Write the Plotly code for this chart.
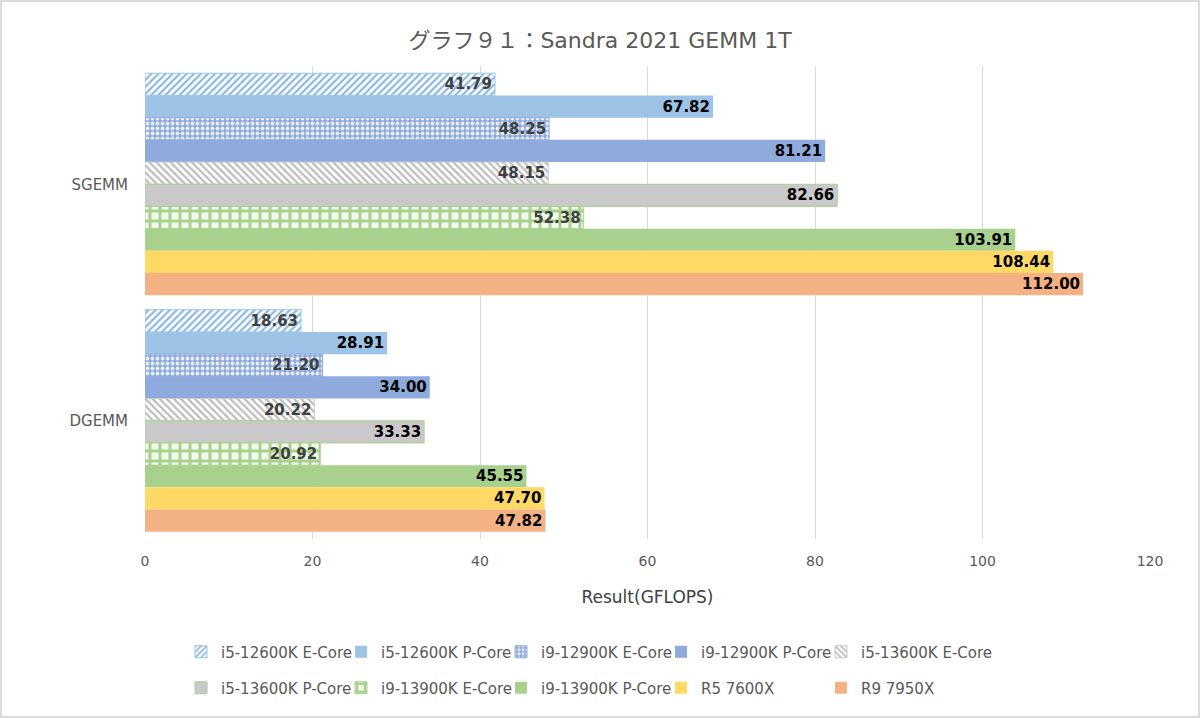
import plotly.graph_objects as go

categories = ["SGEMM", "DGEMM"]
series_names = ["i5-12600K E-Core", "i5-12600K P-Core", "i9-12900K E-Core", "i9-12900K P-Core",
                "i5-13600K E-Core", "i5-13600K P-Core", "i9-13900K E-Core", "i9-13900K P-Core",
                "R5 7600X", "R9 7950X"]
sgemm = [41.79, 67.82, 48.25, 81.21, 48.15, 82.66, 52.38, 103.91, 108.44, 112.00]
dgemm = [18.63, 28.91, 21.20, 34.00, 20.22, 33.33, 20.92, 45.55, 47.70, 47.82]
x_ticks = [0, 20, 40, 60, 80, 100, 120]

colors = ["#9DC3E6", "#9DC3E6", "#8FAADC", "#8FAADC", "#C9C9C9", "#C9C9C9",
          "#A9D18E", "#A9D18E", "#FFD966", "#F4B183"]
outlines = ["#9DC3E6", None, "#8FAADC", None, "#C9C9C9", "#A9D18E",
            "#A9D18E", None, None, None]

pattern_styles = {
    0: dict(shape="/", fgcolor="#8CB8E0", bgcolor="white", size=5, solidity=0.45),
    2: dict(shape=".", fgcolor="#E8EEFA", bgcolor="#8FAADC", size=5, solidity=0.45),
    4: dict(shape="\\", fgcolor="#BDBDBD", bgcolor="white", size=5, solidity=0.45),
    6: dict(shape="+", fgcolor="#A9D18E", bgcolor="#F3FAEE", size=10, solidity=0.5),
}

FONT = "DejaVu Sans, Noto Sans CJK JP"

W, H = 1200, 718
ml, mr, mt, mb = 145, 50, 66, 179
pw, ph = W - ml - mr, H - mt - mb

fig = go.Figure()
for i, name in enumerate(series_names):
    if i in pattern_styles:
        marker = dict(color="white", pattern=dict(fillmode="replace", **pattern_styles[i]))
        tcolor = "#404040"
    else:
        marker = dict(color=colors[i])
        tcolor = "#000000"
    if outlines[i]:
        marker["line"] = dict(color=outlines[i], width=1)
    else:
        marker["line"] = dict(width=0)
    fig.add_trace(go.Bar(
        name=name, y=categories, x=[sgemm[i], dgemm[i]], orientation="h",
        marker=marker, texttemplate="%{x:.2f}", textposition="inside",
        insidetextanchor="end", textangle=0, constraintext="none",
        textfont=dict(family=FONT, size=15, color=tcolor, weight="bold"),
        legend="legend" if i < 5 else "legend2",
    ))

# invisible legend spacers so the last entry of each row is not clipped
for lg in ["legend", "legend2"]:
    fig.add_trace(go.Scatter(x=[None], y=[None], mode="markers", name=" ",
                             marker=dict(color="rgba(0,0,0,0)", size=1,
                                         line=dict(width=0, color="rgba(0,0,0,0)")),
                             hoverinfo="skip", legend=lg, showlegend=True))

legend_common = dict(orientation="h", xanchor="left", yanchor="middle",
                     entrywidth=115, entrywidthmode="pixels", itemwidth=30,
                     font=dict(family=FONT, size=15, color="#595959"),
                     traceorder="normal", bgcolor="rgba(0,0,0,0)")

fig.update_layout(
    width=W, height=H,
    margin=dict(l=ml, r=mr, t=mt, b=mb, autoexpand=False),
    paper_bgcolor="white", plot_bgcolor="white",
    barmode="group", bargap=0.061, bargroupgap=0,
    title=dict(text="グラフ９１：Sandra 2021 GEMM 1T", x=0.5, xanchor="center",
               y=1 - 40 / H, yanchor="middle",
               font=dict(family=FONT, size=22, color="#595959")),
    xaxis=dict(range=[0, 120], tickvals=x_ticks, showgrid=True, gridcolor="#D9D9D9",
               gridwidth=1, zeroline=False, showline=False, automargin=False,
               tickfont=dict(family=FONT, size=14, color="#595959"),
               ticks="", ticklen=0, ticklabelstandoff=12,
               title=dict(text="Result(GFLOPS)", standoff=23,
                          font=dict(family=FONT, size=17, color="#404040"))),
    yaxis=dict(autorange="reversed", showgrid=False, zeroline=False, showline=False,
               automargin=False, ticklabelstandoff=16,
               tickfont=dict(family=FONT, size=15, color="#595959"), ticks=""),
    legend=dict(x=(181 - ml) / pw, y=-(652 - mt - ph) / ph, **legend_common),
    legend2=dict(x=(181 - ml) / pw, y=-(688 - mt - ph) / ph, **legend_common),
    showlegend=True,
)

fig.add_shape(type="rect", xref="paper", yref="paper",
              x0=-(ml - 1) / pw, x1=1 + (mr - 1) / pw,
              y0=-(mb - 1) / ph, y1=1 + (mt - 1) / ph,
              line=dict(color="#D0D0D0", width=1.5), layer="below")

fig.write_html("out.html", config={"displayModeBar": False},
               post_script="document.body.style.margin='0';")
